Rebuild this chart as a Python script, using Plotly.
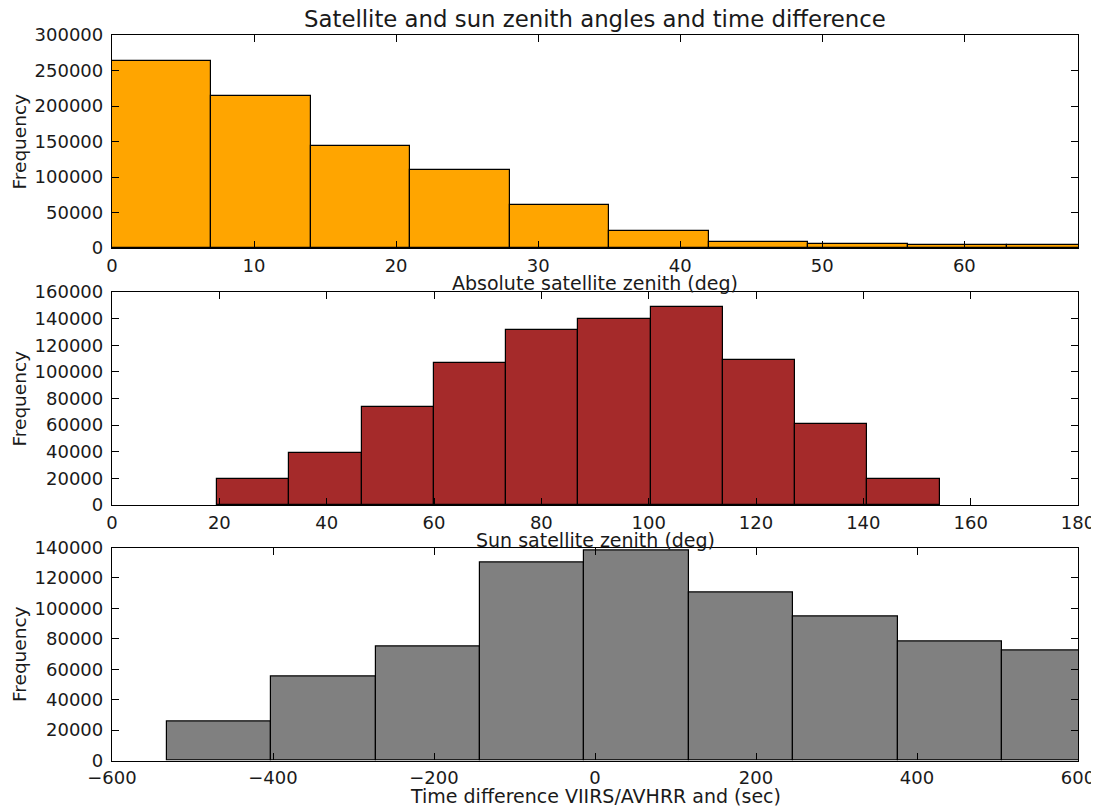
import plotly.graph_objects as go

# ---- data ----
sat_zen_edges = [0, 7, 14, 21, 28, 35, 42, 49, 56, 63, 70]
sat_zen_counts = [263500, 213500, 143500, 110000, 60500, 24000, 8000, 6000, 4500, 4000]

sun_zen_edges = [19.6, 33.06, 46.52, 59.98, 73.44, 86.9, 100.36, 113.82, 127.28, 140.74, 154.2]
sun_zen_counts = [19500, 38900, 73700, 106800, 131700, 139900, 148700, 108800, 60900, 19800]

dt_edges = [-532, -402.3, -272.6, -142.9, -13.2, 116.5, 246.2, 375.9, 505.6, 635.3]
dt_counts = [25400, 54900, 75000, 129900, 138000, 110500, 94900, 78500, 72600]

title_text = "Satellite and sun zenith angles and time difference"
xlabels = ["Absolute satellite zenith (deg)", "Sun satellite zenith (deg)",
           "Time difference VIIRS/AVHRR and (sec)"]
ylabel = "Frequency"

# page is 1099x808; the html body has an 8px margin, so the figure is drawn
# 8px in from the top-left corner.
OFF = 8
W, H = 1099 - OFF, 808 - OFF
FONT = "DejaVu Sans"


def px(x):
    return (x - OFF) / W


def py(y):
    return 1 - (y - OFF) / H


fig = go.Figure()

panels = [
    (sat_zen_edges, sat_zen_counts, "#FFA500"),
    (sun_zen_edges, sun_zen_counts, "#A52A2A"),
    (dt_edges, dt_counts, "#808080"),
]

for i, (edges, counts, color) in enumerate(panels):
    left = edges[:-1]
    widths = [edges[k + 1] - edges[k] for k in range(len(counts))]
    fig.add_trace(go.Bar(
        x=left, y=counts, width=widths, offset=0,
        marker=dict(color=color, line=dict(color="black", width=1.2)),
        xaxis="x" if i == 0 else f"x{i+1}",
        yaxis="y" if i == 0 else f"y{i+1}",
        showlegend=False, hoverinfo="x+y",
    ))

xdom = [px(112), px(1078)]
ypix = [(35, 248), (292, 505), (547.5, 760.5)]
xranges = [[0, 68], [0, 180], [-600, 600]]
xdticks = [10, 20, 200]
yranges = [[0, 300000], [0, 160000], [0, 140000]]
ydticks = [50000, 20000, 20000]

axis_common = dict(
    showline=True, linecolor="black", linewidth=1.3, mirror="allticks",
    ticks="inside", ticklen=7, tickcolor="black", tickwidth=1,
    showgrid=False, zeroline=False, automargin=False,
    tickfont=dict(family=FONT, size=18, color="#1a1a1a"),
)

layout = {}
for i in range(3):
    sfx = "" if i == 0 else str(i + 1)
    top, bot = ypix[i]
    layout[f"xaxis{sfx}"] = dict(
        axis_common, domain=xdom, range=xranges[i], dtick=xdticks[i], tick0=0,
        anchor=f"y{sfx}", ticklabelstandoff=1,
    )
    layout[f"yaxis{sfx}"] = dict(
        axis_common, domain=[py(bot), py(top)], range=yranges[i],
        dtick=ydticks[i], tick0=0, anchor=f"x{sfx}", tickformat="d",
        ticklabelstandoff=4,
    )

fig.update_layout(**layout)

annotations = [
    dict(text=title_text, x=px(595), y=py(19), xref="paper", yref="paper",
         xanchor="center", yanchor="middle", showarrow=False,
         font=dict(family=FONT, size=22.8, color="#1a1a1a")),
]
xlab_y = [283, 540, 796]
for i in range(3):
    annotations.append(dict(
        text=xlabels[i], x=px(595), y=py(xlab_y[i]), xref="paper", yref="paper",
        xanchor="center", yanchor="middle", showarrow=False,
        font=dict(family=FONT, size=19, color="#1a1a1a")))
    top, bot = ypix[i]
    annotations.append(dict(
        text=ylabel, x=px(19), y=py((top + bot) / 2), xref="paper", yref="paper",
        xanchor="center", yanchor="middle", showarrow=False, textangle=-90,
        font=dict(family=FONT, size=18.5, color="#1a1a1a")))

fig.update_layout(
    width=W, height=H,
    margin=dict(l=0, r=0, t=0, b=0, autoexpand=False),
    paper_bgcolor="white", plot_bgcolor="white",
    font=dict(family=FONT, size=18, color="#1a1a1a"),
    annotations=annotations,
    bargap=0,
)

fig.write_html("out.html")
